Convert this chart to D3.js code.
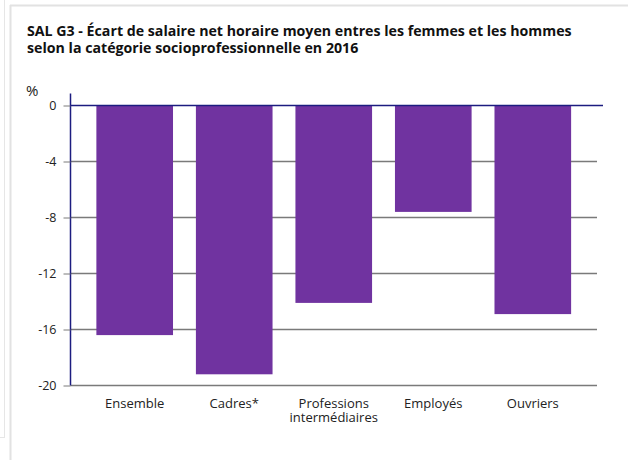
<!DOCTYPE html>
<html>
<head>
<meta charset="utf-8">
<script src="https://cdn.jsdelivr.net/npm/d3@7"></script>
<style>
  body { margin: 0; background: #fff; }
  svg { display: block; font-family: "Open Sans", sans-serif; }
</style>
</head>
<body>
<div id="chart"></div>
<script>
// SAL G3 - écart de salaire par CSP

const categories = ['Ensemble', 'Cadres*', 'Professions\nintermédiaires', 'Employés', 'Ouvriers'];
const values = [-16.4, -19.2, -14.1, -7.6, -14.9];
const yTicks = [0, -4, -8, -12, -16, -20];
const titleLines = [
  'SAL G3 - Écart de salaire net horaire moyen entres les femmes et les hommes',
  'selon la catégorie socioprofessionnelle en 2016'
];

const width = 628;
const height = 460;

const svg = d3.select('#chart')
  .append('svg')
  .attr('width', width)
  .attr('height', height);

// card borders
svg.append('line').attr('x1', 10).attr('y1', 5.5).attr('x2', width).attr('y2', 5.5)
  .attr('stroke', '#e2e2e2').attr('stroke-width', 2);
svg.append('line').attr('x1', 10.5).attr('y1', 5).attr('x2', 10.5).attr('y2', height)
  .attr('stroke', '#e2e2e2').attr('stroke-width', 2);
svg.append('line').attr('x1', 4.5).attr('y1', 0).attr('x2', 4.5).attr('y2', 437)
  .attr('stroke', '#e6e6e6').attr('stroke-width', 1);
svg.append('line').attr('x1', 0).attr('y1', 437.5).attr('x2', 5).attr('y2', 437.5)
  .attr('stroke', '#e6e6e6').attr('stroke-width', 1);

// title, one text per line
svg.append('g')
  .selectAll('text')
  .data(titleLines)
  .enter()
  .append('text')
  .attr('x', 27)
  .attr('y', (d, i) => 36 + i * 17)
  .style('font-size', '14.2px')
  .style('font-weight', 'bold')
  .attr('fill', '#111')
  .text(d => d);

const plot = { left: 70.5, right: 597, top: 105.5, bottom: 385.5 };

const x = d3.scaleBand()
  .domain(categories)
  .range([plot.left, plot.right])
  .paddingInner(0.23)
  .paddingOuter(0.26);

const y = d3.scaleLinear()
  .domain([0, -20])
  .range([plot.top, plot.bottom]);

// gridlines
svg.append('g')
  .selectAll('line')
  .data(yTicks.filter(d => d !== 0))
  .enter()
  .append('line')
  .attr('x1', plot.left)
  .attr('x2', plot.right)
  .attr('y1', d => y(d))
  .attr('y2', d => y(d))
  .attr('stroke', '#7a7a7a')
  .attr('stroke-width', 1.5);

// bars
svg.append('g')
  .selectAll('rect')
  .data(values)
  .enter()
  .append('rect')
  .attr('x', (d, i) => x(categories[i]))
  .attr('y', d => y(0))
  .attr('width', x.bandwidth())
  .attr('height', d => y(d) - y(0))
  .attr('fill', '#7033a0');

// y axis
const yAxis = svg.append('g')
  .attr('transform', `translate(${plot.left},0)`)
  .call(d3.axisLeft(y).tickValues(yTicks).tickSize(7).tickPadding(7).tickFormat(d3.format('d')));
yAxis.select('.domain').attr('stroke', '#1c1c80').attr('stroke-width', 1.5).attr('d', `M0,${plot.top - 12}V${plot.bottom}`);
yAxis.selectAll('.tick line').attr('stroke', '#7a7a7a');
yAxis.selectAll('.tick text')
  .style('font-size', '12.5px')
  .style('font-family', '"Open Sans", sans-serif')
  .attr('fill', '#222')
  .text(d => d === 0 ? '0' : '-' + Math.abs(d));

// zero line
svg.append('line')
  .attr('x1', plot.left)
  .attr('x2', 603)
  .attr('y1', y(0))
  .attr('y2', y(0))
  .attr('stroke', '#1c1c80')
  .attr('stroke-width', 1.5);

// unit
svg.append('text')
  .attr('x', 26)
  .attr('y', 96)
  .style('font-size', '15px')
  .attr('fill', '#222')
  .text('%');

// x labels, one text per line
const labelLines = [];
categories.forEach(c => {
  c.split('\n').forEach((s, i) => labelLines.push({ cat: c, s, i }));
});

svg.append('g')
  .selectAll('text')
  .data(labelLines)
  .enter()
  .append('text')
  .attr('x', d => x(d.cat) + x.bandwidth() / 2)
  .attr('y', d => 408 + d.i * 13.5)
  .attr('text-anchor', 'middle')
  .style('font-size', '13px')
  .attr('fill', '#222')
  .text(d => d.s);
</script>
</body>
</html>
